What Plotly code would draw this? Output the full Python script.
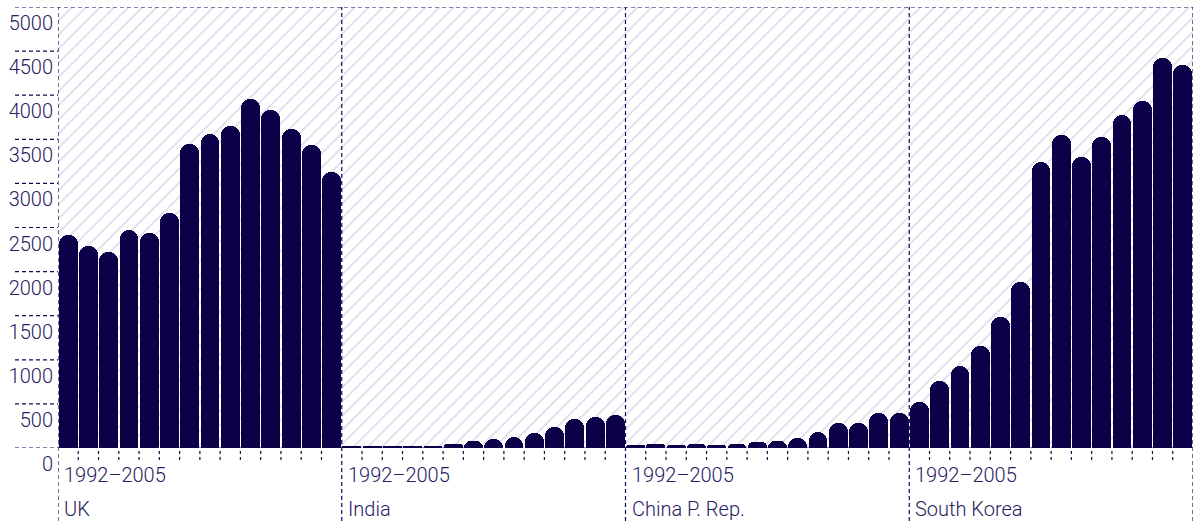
import plotly.graph_objects as go

countries = ["UK", "India", "China P. Rep.", "South Korea"]
period_label = "1992–2005"
years = list(range(1992, 2006))

uk = [2420, 2288, 2224, 2470, 2443, 2667, 3451, 3560, 3655, 3955, 3830, 3614, 3435, 3133]
india = [20, 15, 20, 20, 20, 40, 80, 102, 121, 170, 242, 333, 356, 379]
china = [30, 45, 35, 50, 35, 50, 65, 83, 110, 186, 280, 288, 394, 394]
korea = [526, 765, 932, 1151, 1485, 1879, 3246, 3549, 3303, 3527, 3773, 3932, 4417, 4341]
series = [uk, india, china, korea]

y_ticks = list(range(0, 5001, 500))
y_max = 5000

BAR = "#0c0049"
INK = "#252062"
LINE = "#0f0a52"
HATCH = "#b9b9da"
FONT = dict(family="Roboto", size=20, color=INK, weight=300)

n = len(years)
g = len(countries)
xs = [gi * n + i for gi in range(g) for i in range(n)]
ys = [v for s in series for v in s]
hover = [f"{countries[gi]} {years[i]}" for gi in range(g) for i in range(n)]

fig = go.Figure()

# hatched background panels, one per country
fig.add_trace(go.Bar(
    x=[gi * n + (n - 1) / 2 for gi in range(g)],
    y=[y_max] * g,
    width=[n] * g,
    marker=dict(color="white", line=dict(width=0),
                pattern=dict(shape="/", fgcolor=HATCH, bgcolor="white",
                             size=10, solidity=0.18)),
    hoverinfo="skip", showlegend=False,
))

fig.add_trace(go.Bar(
    x=xs, y=ys, width=0.93,
    marker=dict(color=BAR, line=dict(width=0), cornerradius="50%"),
    hovertext=hover, hoverinfo="text+y", showlegend=False,
))

PLOT_W = 1203 - 58 - 10
PLOT_H = 521 - 7 - 73
shapes = []
dash = "4px,3px"
left = -43 / PLOT_W
for t in y_ticks:
    shapes.append(dict(type="line", xref="paper", yref="y",
                       x0=left, x1=1 if t in (0, y_max) else 0, y0=t, y1=t,
                       line=dict(color=LINE, width=1.2, dash=dash), layer="above"))
bottom = -73 / PLOT_H
for gi in range(g + 1):
    xb = gi * n - 0.5
    shapes.append(dict(type="line", xref="x", yref="paper",
                       x0=xb, x1=xb, y0=bottom, y1=1,
                       line=dict(color=LINE, width=1.2, dash=dash), layer="above"))
for gi in range(g):
    for i in range(1, n):
        xb = gi * n + i - 0.5
        shapes.append(dict(type="line", xref="x", yref="paper",
                           x0=xb, x1=xb, y0=-12 / PLOT_H, y1=0,
                           line=dict(color=LINE, width=1.2, dash="3px,3px"), layer="above"))

annotations = []
for gi, c in enumerate(countries):
    xb = gi * n - 0.5
    annotations.append(dict(x=xb, y=-27 / PLOT_H, xref="x", yref="paper",
                            text=period_label, showarrow=False, xanchor="left",
                            yanchor="middle", xshift=4, font=FONT))
    annotations.append(dict(x=xb, y=-61 / PLOT_H, xref="x", yref="paper",
                            text=c, showarrow=False, xanchor="left",
                            yanchor="middle", xshift=4, font=FONT))

fig.update_layout(
    width=1203, height=521,
    margin=dict(l=58, r=10, t=7, b=73),
    paper_bgcolor="white", plot_bgcolor="white",
    barmode="overlay", bargap=0,
    shapes=shapes, annotations=annotations,
    font=FONT,
    xaxis=dict(range=[-0.5, g * n - 0.5], showticklabels=False, showgrid=False,
               zeroline=False, ticks="", fixedrange=True, automargin=False),
    yaxis=dict(range=[0, y_max], tickvals=y_ticks, showgrid=False, zeroline=False,
               ticks="", ticklabelshift=16, ticklabelstandoff=4,
               tickfont=FONT, fixedrange=True, automargin=False),
)

fig.write_html("out.html", config={"displayModeBar": False},
               post_script="document.body.style.margin='0';document.body.style.overflow='hidden';")
